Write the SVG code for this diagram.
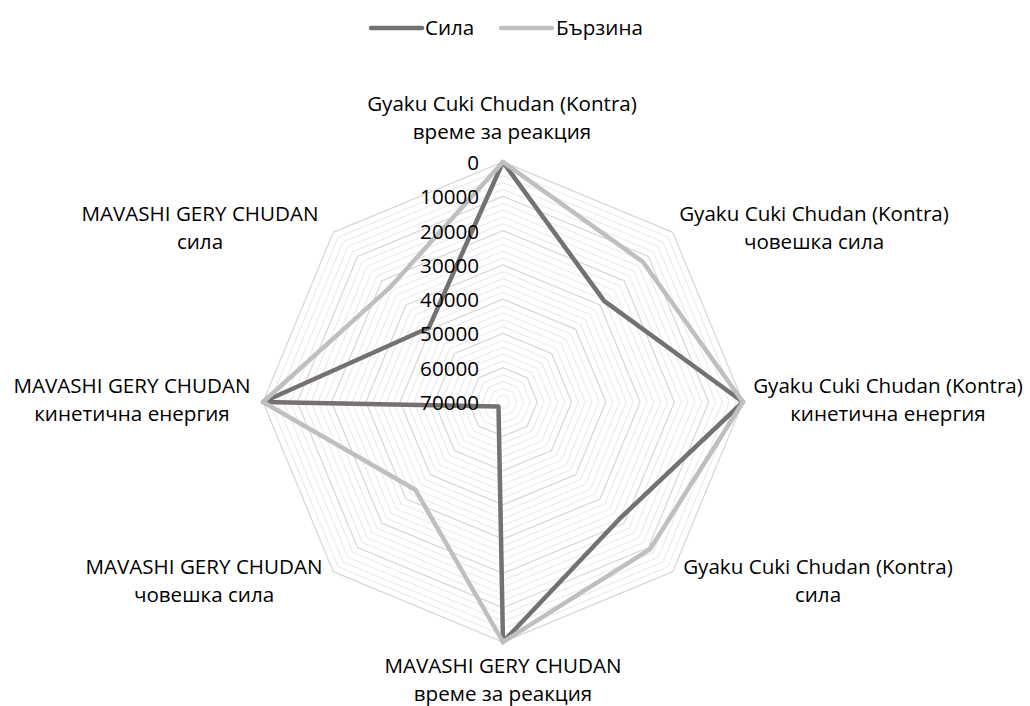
<svg xmlns="http://www.w3.org/2000/svg" width="1030" height="706" viewBox="0 0 1030 706">
  <style>
    text { font-family: "Open Sans", "Noto Sans", "DejaVu Sans", sans-serif; font-size: 20.6px; fill: #000; }
    .lbl { text-anchor: middle; }
    .tick { text-anchor: end; }
    .minor { fill: none; stroke: #ececec; stroke-width: 1.2; }
    .major { fill: none; stroke: #d9d9d9; stroke-width: 1.3; }
    .sila { fill: none; stroke: #767171; stroke-width: 4.5; stroke-linejoin: round; stroke-linecap: round; }
    .barzina { fill: none; stroke: #bfbfbf; stroke-width: 4.5; stroke-linejoin: round; stroke-linecap: round; }
  </style>
  <rect width="1030" height="706" fill="#fff"/>

  <!-- legend -->
  <g id="legend">
    <line class="sila" x1="371" y1="28" x2="422" y2="28"/>
    <text x="425" y="35">Сила</text>
    <line class="barzina" x1="501" y1="28" x2="552" y2="28"/>
    <text x="556" y="35">Бързина</text>
  </g>

  <!-- radar grid: 35 rings, 2000 per ring, every 5th ring is a major gridline -->
  <g id="grid">
    <polygon class="minor" points="503,395.1 507.8,397.2 509.9,402 507.8,406.8 503,408.9 498.2,406.8 496.1,402 498.2,397.2"/>
    <polygon class="minor" points="503,388.3 512.7,392.3 516.7,402 512.7,411.7 503,415.7 493.3,411.7 489.3,402 493.3,392.3"/>
    <polygon class="minor" points="503,381.4 517.5,387.5 523.6,402 517.5,416.5 503,422.6 488.5,416.5 482.4,402 488.5,387.5"/>
    <polygon class="minor" points="503,374.6 522.4,382.6 530.4,402 522.4,421.4 503,429.4 483.6,421.4 475.6,402 483.6,382.6"/>
    <polygon class="major" points="503,367.7 527.2,377.8 537.3,402 527.2,426.2 503,436.3 478.8,426.2 468.7,402 478.8,377.8"/>
    <polygon class="minor" points="503,360.9 532.1,372.9 544.1,402 532.1,431.1 503,443.1 473.9,431.1 461.9,402 473.9,372.9"/>
    <polygon class="minor" points="503,354 536.9,368.1 551,402 536.9,435.9 503,450 469.1,435.9 455,402 469.1,368.1"/>
    <polygon class="minor" points="503,347.1 541.8,363.2 557.9,402 541.8,440.8 503,456.9 464.2,440.8 448.1,402 464.2,363.2"/>
    <polygon class="minor" points="503,340.3 546.6,358.4 564.7,402 546.6,445.6 503,463.7 459.4,445.6 441.3,402 459.4,358.4"/>
    <polygon class="major" points="503,333.4 551.5,353.5 571.6,402 551.5,450.5 503,470.6 454.5,450.5 434.4,402 454.5,353.5"/>
    <polygon class="minor" points="503,326.6 556.3,348.7 578.4,402 556.3,455.3 503,477.4 449.7,455.3 427.6,402 449.7,348.7"/>
    <polygon class="minor" points="503,319.7 561.2,343.8 585.3,402 561.2,460.2 503,484.3 444.8,460.2 420.7,402 444.8,343.8"/>
    <polygon class="minor" points="503,312.9 566,339 592.1,402 566,465 503,491.1 440,465 413.9,402 440,339"/>
    <polygon class="minor" points="503,306 570.9,334.1 599,402 570.9,469.9 503,498 435.1,469.9 407,402 435.1,334.1"/>
    <polygon class="major" points="503,299.1 575.7,329.3 605.9,402 575.7,474.7 503,504.9 430.3,474.7 400.1,402 430.3,329.3"/>
    <polygon class="minor" points="503,292.3 580.6,324.4 612.7,402 580.6,479.6 503,511.7 425.4,479.6 393.3,402 425.4,324.4"/>
    <polygon class="minor" points="503,285.4 585.4,319.6 619.6,402 585.4,484.4 503,518.6 420.6,484.4 386.4,402 420.6,319.6"/>
    <polygon class="minor" points="503,278.6 590.3,314.7 626.4,402 590.3,489.3 503,525.4 415.7,489.3 379.6,402 415.7,314.7"/>
    <polygon class="minor" points="503,271.7 595.1,309.9 633.3,402 595.1,494.1 503,532.3 410.9,494.1 372.7,402 410.9,309.9"/>
    <polygon class="major" points="503,264.9 600,305 640.1,402 600,499 503,539.1 406,499 365.9,402 406,305"/>
    <polygon class="minor" points="503,258 604.8,300.2 647,402 604.8,503.8 503,546 401.2,503.8 359,402 401.2,300.2"/>
    <polygon class="minor" points="503,251.1 609.7,295.3 653.9,402 609.7,508.7 503,552.9 396.3,508.7 352.1,402 396.3,295.3"/>
    <polygon class="minor" points="503,244.3 614.5,290.5 660.7,402 614.5,513.5 503,559.7 391.5,513.5 345.3,402 391.5,290.5"/>
    <polygon class="minor" points="503,237.4 619.4,285.6 667.6,402 619.4,518.4 503,566.6 386.6,518.4 338.4,402 386.6,285.6"/>
    <polygon class="major" points="503,230.6 624.2,280.8 674.4,402 624.2,523.2 503,573.4 381.8,523.2 331.6,402 381.8,280.8"/>
    <polygon class="minor" points="503,223.7 629.1,275.9 681.3,402 629.1,528.1 503,580.3 376.9,528.1 324.7,402 376.9,275.9"/>
    <polygon class="minor" points="503,216.9 633.9,271.1 688.1,402 633.9,532.9 503,587.1 372.1,532.9 317.9,402 372.1,271.1"/>
    <polygon class="minor" points="503,210 638.8,266.2 695,402 638.8,537.8 503,594 367.2,537.8 311,402 367.2,266.2"/>
    <polygon class="minor" points="503,203.1 643.6,261.4 701.9,402 643.6,542.6 503,600.9 362.4,542.6 304.1,402 362.4,261.4"/>
    <polygon class="major" points="503,196.3 648.5,256.5 708.7,402 648.5,547.5 503,607.7 357.5,547.5 297.3,402 357.5,256.5"/>
    <polygon class="minor" points="503,189.4 653.3,251.7 715.6,402 653.3,552.3 503,614.6 352.7,552.3 290.4,402 352.7,251.7"/>
    <polygon class="minor" points="503,182.6 658.2,246.8 722.4,402 658.2,557.2 503,621.4 347.8,557.2 283.6,402 347.8,246.8"/>
    <polygon class="minor" points="503,175.7 663,242 729.3,402 663,562 503,628.3 343,562 276.7,402 343,242"/>
    <polygon class="minor" points="503,168.9 667.9,237.1 736.1,402 667.9,566.9 503,635.1 338.1,566.9 269.9,402 338.1,237.1"/>
    <polygon class="major" points="503,162 672.7,232.3 743,402 672.7,571.7 503,642 333.3,571.7 263,402 333.3,232.3"/>
  </g>

  <!-- data series -->
  <g id="series">
    <polygon id="series-sila" class="sila" points="503,162 604.1,300.9 743,402 619.7,518.7 503,642 498.5,406.5 263,402 428.8,327.8"/>
    <polygon id="series-barzina" class="barzina" points="503,162 643,262 743,402 650.1,549.1 503,642 415.3,489.7 263,402 389.2,288.2"/>
  </g>

  <!-- value axis (reversed: 0 at the rim, 70000 at the centre) -->
  <g id="value-axis">
    <text class="tick" x="479" y="170">0</text>
    <text class="tick" x="479" y="204.3">10000</text>
    <text class="tick" x="479" y="238.6">20000</text>
    <text class="tick" x="479" y="272.9">30000</text>
    <text class="tick" x="479" y="307.1">40000</text>
    <text class="tick" x="479" y="341.4">50000</text>
    <text class="tick" x="479" y="375.7">60000</text>
    <text class="tick" x="479" y="410">70000</text>
  </g>

  <!-- category labels -->
  <g id="cat-0"><text class="lbl" x="502" y="111">Gyaku Cuki Chudan (Kontra)</text><text class="lbl" x="502" y="139">време за реакция</text></g>
  <g id="cat-1"><text class="lbl" x="814" y="221">Gyaku Cuki Chudan (Kontra)</text><text class="lbl" x="814" y="249">човешка сила</text></g>
  <g id="cat-2"><text class="lbl" x="888" y="393">Gyaku Cuki Chudan (Kontra)</text><text class="lbl" x="888" y="421">кинетична енергия</text></g>
  <g id="cat-3"><text class="lbl" x="818" y="574">Gyaku Cuki Chudan (Kontra)</text><text class="lbl" x="818" y="602">сила</text></g>
  <g id="cat-4"><text class="lbl" x="503" y="673">MAVASHI GERY CHUDAN</text><text class="lbl" x="503" y="701">време за реакция</text></g>
  <g id="cat-5"><text class="lbl" x="204" y="574">MAVASHI GERY CHUDAN</text><text class="lbl" x="204" y="602">човешка сила</text></g>
  <g id="cat-6"><text class="lbl" x="132" y="393">MAVASHI GERY CHUDAN</text><text class="lbl" x="132" y="421">кинетична енергия</text></g>
  <g id="cat-7"><text class="lbl" x="200" y="221">MAVASHI GERY CHUDAN</text><text class="lbl" x="200" y="249">сила</text></g>
</svg>
